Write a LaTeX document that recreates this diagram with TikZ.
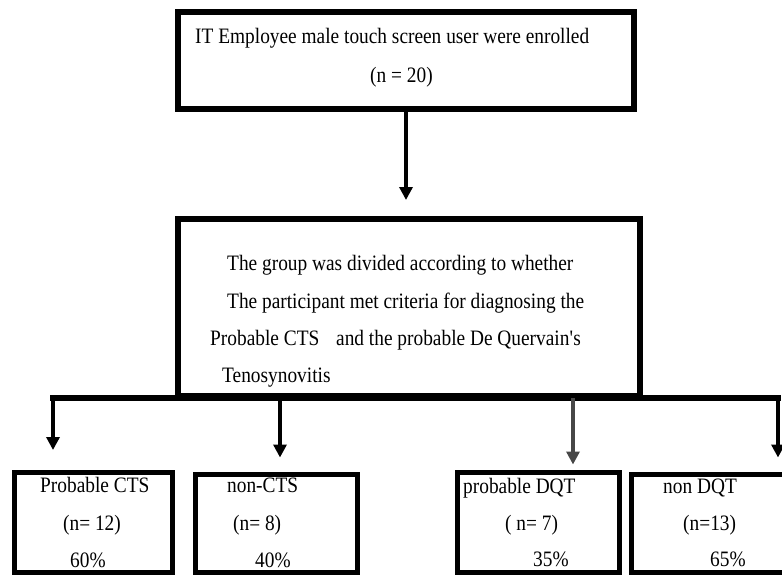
\documentclass[tikz,border=0pt]{standalone}
\usepackage{fontspec}
\setmainfont{Liberation Serif}[FakeStretch=0.88]
\usetikzlibrary{arrows.meta}
\begin{document}
\begin{tikzpicture}[x=1pt,y=-1pt,
  bigbox/.style={draw, line width=5.5pt, inner sep=0pt},
  smallbox/.style={draw, line width=5pt, inner sep=0pt},
  txt/.style={inner sep=0pt, anchor=base west, font=\fontsize{22}{26}\selectfont},
  arr/.style={line width=4.5pt, -{Triangle[width=13pt,length=13pt]}},
  grayarr/.style={arr, draw=black!72},
  bus/.style={line width=6pt, line cap=rect}]
\useasboundingbox (0,0) rectangle (782,575);
\fill[white] (0,0) rectangle (782,575);
% boxes
\node[bigbox, minimum width=456pt, minimum height=97pt] (top) at (406,60.5) {};
\node[bigbox, line width=6pt, minimum width=462pt, minimum height=177pt] (mid) at (409,307.5) {};
\node[smallbox, minimum width=158pt, minimum height=100pt] (b1) at (93.5,522.5) {};
\node[smallbox, minimum width=162pt, minimum height=98pt] (b2) at (276.5,523.5) {};
\node[smallbox, minimum width=162pt, minimum height=100pt] (b3) at (538.5,522.5) {};
\node[smallbox, minimum width=168pt, minimum height=98pt] (b4) at (715.5,523.5) {};
% junctions on the bus
\coordinate (j1) at (53,398);
\coordinate (j2) at (280,398);
\coordinate (j3) at (573,398);
\coordinate (j4) at (778,398);
% connectors
\draw[arr, shorten >=16pt] (top.south) -- (top.south |- mid.north);
\draw[bus] (j1) -- (j4);
\draw[arr, shorten >=20pt] (j1) -- (j1 |- b1.north);
\draw[arr, shorten >=14.5pt] (j2) -- (j2 |- b2.north);
\draw[grayarr, shorten >=5.5pt] (j3) -- (j3 |- b3.north);
\draw[arr, shorten >=14.5pt] (j4) -- (j4 |- b4.north);
% texts
\node[txt] (t1) at (195,43.3) {IT Employee male touch screen user were enrolled};
\node[txt] (t2) at (370,83) {(n = 20)};
\node[txt] (m1) at (227,270.7) {The group was divided according to whether};
\node[txt] (m2) at (227,308) {The participant met criteria for diagnosing the};
\node[txt] (m3) at (210,345) {Probable CTS\hspace{12pt} and the probable De Quervain\textquotesingle s};
\node[txt] (m4) at (222,382) {Tenosynovitis};
\node[txt] (p1) at (40,492) {Probable CTS};
\node[txt] (p2) at (63,530) {(n= 12)};
\node[txt] (p3) at (70,567) {60\%};
\node[txt] (q1) at (227,492) {non-CTS};
\node[txt] (q2) at (233,530) {(n= 8)};
\node[txt] (q3) at (255,567) {40\%};
\node[txt] (r1) at (463,493) {probable DQT};
\node[txt] (r2) at (505,530) {( n= 7)};
\node[txt] (r3) at (533,566) {35\%};
\node[txt] (s1) at (663,493) {non DQT};
\node[txt] (s2) at (683,530) {(n=13)};
\node[txt] (s3) at (710,566) {65\%};
\end{tikzpicture}
\end{document}
